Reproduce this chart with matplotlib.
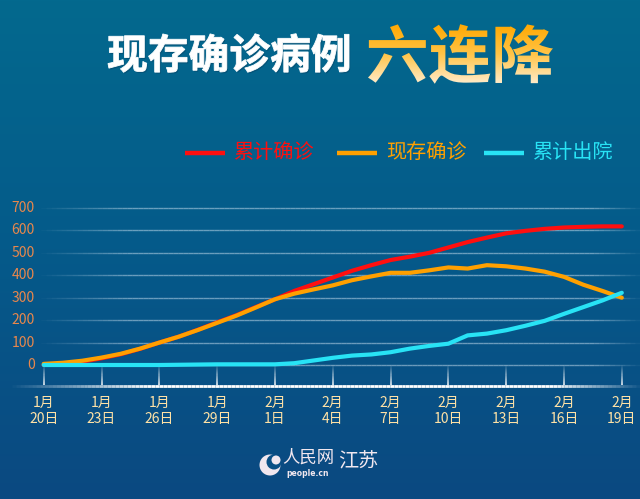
import numpy as np
import matplotlib
matplotlib.use("Agg")
from matplotlib import pyplot as plt
from matplotlib.collections import LineCollection
from matplotlib.colors import LinearSegmentedColormap, to_rgb
from matplotlib.font_manager import FontProperties
from matplotlib.patches import PathPatch, Circle
from matplotlib.path import Path
from matplotlib.textpath import TextPath
from matplotlib.transforms import blended_transform_factory

plt.rcParams["font.family"] = ["Noto Sans CJK SC", "DejaVu Sans"]

# data, one value per day from 1/20 to 2/19
cumulative = [0, 3, 15, 30, 48, 72, 100, 126, 157, 190, 222, 258, 293, 330, 360,
              390, 420, 445, 468, 483, 500, 524, 548, 568, 587, 598, 607, 613,
              616, 618, 618]
current = [5, 10, 19, 33, 50, 73, 100, 126, 156, 188, 220, 256, 293, 318, 337,
           355, 378, 395, 411, 411, 422, 435, 430, 445, 440, 430, 416, 393,
           358, 330, 300]
discharged = [0, 0, 0, 0, 0, 0, 0, 1, 2, 3, 3, 3, 3, 8, 20, 32, 42, 47, 57, 73,
              85, 95, 132, 140, 155, 175, 197, 228, 258, 288, 322]
tick_days = [0, 3, 6, 9, 12, 15, 18, 21, 24, 27, 30]
tick_labels = ["1月\n20日", "1月\n23日", "1月\n26日", "1月\n29日", "2月\n1日",
               "2月\n4日", "2月\n7日", "2月\n10日", "2月\n13日", "2月\n16日",
               "2月\n19日"]
y_ticks = [0, 100, 200, 300, 400, 500, 600, 700]
series_names = ["累计确诊", "现存确诊", "累计出院"]
series_colors = ["#ff0f0f", "#ffa000", "#28e3f5"]

W, H = 640, 499
fig = plt.figure(figsize=(6.4, 4.99), dpi=100)

# background gradient
bg = fig.add_axes([0, 0, 1, 1], zorder=-5)
bg_cmap = LinearSegmentedColormap.from_list("bg", ["#03698e", "#055a8a", "#0b4981"])
bg.imshow(np.linspace(0, 1, 256).reshape(-1, 1), cmap=bg_cmap, aspect="auto",
          extent=[0, 1, 0, 1])
bg.set_axis_off()

# pixel mapping of the plot
px_per_day = 19.27
x0_px = 43.7
zero_px = 365
px_per_unit = 0.2243


def day_of(px):
    return (px - x0_px) / px_per_day


def val_of(py):
    return (zero_px - py) / px_per_unit


ax = fig.add_axes([0, (H - 395) / H, 1, (395 - 190) / H])
ax.set_xlim(day_of(0), day_of(W))
ax.set_ylim(val_of(395), val_of(190))
ax.set_axis_off()


def faded_line(xs_px, ys, alphas, color, lw):
    xs = day_of(np.asarray(xs_px))
    pts = np.column_stack([xs, ys])
    segs = np.stack([pts[:-1], pts[1:]], axis=1)
    rgb = to_rgb(color)
    cols = [(*rgb, a) for a in alphas[:-1]]
    ax.add_collection(LineCollection(segs, colors=cols, linewidths=lw,
                                     capstyle="butt"))


# grid lines
gx = np.linspace(36, 640, 120)
galpha = 0.5 * np.clip((gx - 36) / 90, 0, 1) * np.clip((640 - gx) / 50, 0, 1)
for v in y_ticks:
    faded_line(gx, np.full_like(gx, v), galpha, "#cfe3f2", 1.0)

# vertical tick marks below the zero line
for d in tick_days:
    ty = np.linspace(0, val_of(385), 20)
    ta = np.linspace(0.05, 0.95, 20)
    xpx = np.full(20, x0_px + d * px_per_day)
    faded_line(xpx, ty, ta, "white", 1.2)

# base line
bx = np.linspace(8, 640, 160)
balpha = np.clip((bx - 8) / 140, 0, 1) * np.clip((640 - bx) / 90, 0, 1)
faded_line(bx, np.full_like(bx, val_of(385.5)), balpha, "white", 2.0)

days = np.arange(len(cumulative))
for vals, c in zip([cumulative, current, discharged], series_colors):
    ax.plot(days, vals, color=c, lw=3.0, solid_joinstyle="round",
            solid_capstyle="round", zorder=3)

# y tick labels
ytr = blended_transform_factory(fig.transFigure, ax.transData)
for v in y_ticks:
    ax.text(35 / W, v, str(v), transform=ytr, ha="right", va="center",
            fontsize=10, color="#e8874c")

# x tick labels
xtr = blended_transform_factory(ax.transData, fig.transFigure)
for d, lab in zip(tick_days, tick_labels):
    ax.text(d, 1 - 411 / H, lab, transform=xtr, ha="center", va="center",
            fontsize=10, color="#ffe2a6", linespacing=1.2)

# overlay in pixel coordinates for titles, legend and logo
ov = fig.add_axes([0, 0, 1, 1], zorder=5)
ov.set_xlim(0, W)
ov.set_ylim(H, 0)
ov.set_axis_off()
ov.patch.set_alpha(0)


def fitted_path(s, fp, x0, x1, yc):
    tp = TextPath((0, 0), s, size=100, prop=fp)
    ext = tp.get_extents()
    k = (x1 - x0) / ext.width
    v = tp.vertices.copy()
    v[:, 0] = x0 + (v[:, 0] - ext.x0) * k
    v[:, 1] = yc - (v[:, 1] - (ext.y0 + ext.y1) / 2) * k
    return Path(v, tp.codes)


fp_title = FontProperties(family="Noto Sans CJK SC", weight="black")
p_white = fitted_path("现存确诊病例", fp_title, 108, 349, 53)
ov.add_patch(PathPatch(Path(p_white.vertices + [1.2, 1.5], p_white.codes),
                       facecolor="#0a3555", edgecolor="none", alpha=0.35))
ov.add_patch(PathPatch(p_white, facecolor="white", edgecolor="white", lw=0.6))

p_gold = fitted_path("六连降", fp_title, 368, 553, 54)
gold_patch = PathPatch(p_gold, facecolor="none", edgecolor="none")
ov.add_patch(gold_patch)
gold_cmap = LinearSegmentedColormap.from_list("gold", ["#ffa800", "#ffc447", "#ffeccb"])
ext = p_gold.get_extents()
im = ov.imshow(np.linspace(0, 1, 128).reshape(-1, 1), cmap=gold_cmap,
               aspect="auto", extent=[ext.x0, ext.x1, ext.y1, ext.y0])
im.set_clip_path(gold_patch)
ov.set_xlim(0, W)
ov.set_ylim(H, 0)

# legend
leg_x = [185, 337, 484]
for lx, name, c in zip(leg_x, series_names, series_colors):
    ov.plot([lx, lx + 40], [153, 153], color=c, lw=3.2, solid_capstyle="butt")
    ov.text(lx + 49, 153, name, color=c, fontsize=14.5, ha="left", va="center")

# logo
ov.add_patch(Circle((270, 465), 10.5, facecolor="#f1e7ef", edgecolor="none"))
ov.add_patch(Circle((274, 462), 7.5, facecolor="#0a4f85", edgecolor="none"))
ov.add_patch(Circle((276, 460), 4.5, facecolor="#f1e7ef", edgecolor="none"))
ov.text(308, 458, "人民网", color="#f1e7ef", fontsize=12.5, ha="center",
        va="center", style="italic")
ov.text(308, 473, "people.cn", color="#f1e7ef", fontsize=5.5, ha="center",
        va="center", family="DejaVu Sans", weight="bold")
ov.text(358, 462, "江苏", color="#f1e7ef", fontsize=14.5, ha="center", va="center")

fig.savefig("out.png", dpi=100)
